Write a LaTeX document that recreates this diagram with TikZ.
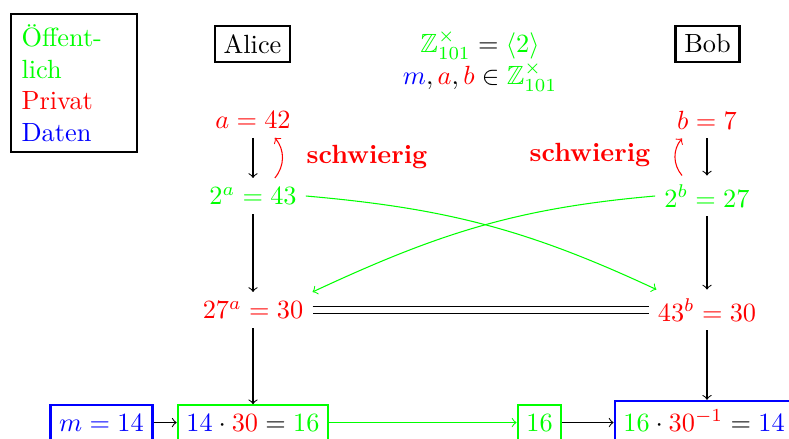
\documentclass[tikz,border=0pt]{standalone}
\usepackage{amssymb}
\begin{document}
\begin{tikzpicture}[x=0.38pt,y=-0.38pt,
  box/.style={draw,thick},
  arr/.style={->}]
\useasboundingbox (0,0) rectangle (789,438);
% legend
\node[box,anchor=north west,text width=40pt,align=left,inner sep=4pt] (leg) at (10,13)
  {{\color{green}Öffent-}\\{\color{green}lich}\\{\color{red}Privat}\\{\color{blue}Daten}};
\node[box] (alice) at (252.5,44) {Alice};
\node[box] (bob) at (707.5,44) {Bob};
\node (grp) at (480,45) {$\color{green}\mathbb{Z}_{101}^{\times}\color{black} = \color{green}\langle 2\rangle$};
\node (set) at (480,77) {${\color{blue}m}, {\color{red}a}, {\color{red}b} \in {\color{green}\mathbb{Z}_{101}^{\times}}$};
% Alice
\node[red] (a) at (253,120) {$a = 42$};
\node[green] (twoa) at (253,196) {$2^a = 43$};
\node[red] (ca) at (253,310) {$27^a = 30$};
% Bob
\node[red] (b) at (707,120) {$b = 7$};
\node[green] (twob) at (707,196) {$2^b = 27$};
\node[red] (cb) at (707,310) {$43^b = 30$};
\node[red,font=\bfseries] (sa) at (367,157) {schwierig};
\node[red,font=\bfseries] (sb) at (590,155) {schwierig};
% bottom row
\node[box,blue,anchor=base] (m) at (101.5,431) {$m = 14$};
\node[box,green,anchor=base] (x1) at (253,431) {${\color{blue}14}\color{black}\cdot{\color{red}30} = {\color{green}16}$};
\node[box,green,anchor=base] (s16) at (539.5,431) {$16$};
\node[box,blue,anchor=base] (last) at (704,431) {${\color{green}16}\color{black}\cdot{\color{red}30^{-1}} = {\color{blue}14}$};
% arrows
\draw[arr] (a) -- (twoa);
\draw[arr] (b) -- (twob);
\draw[arr] (twoa) -- (ca);
\draw[arr] (twob) -- (cb);
\draw[red,->] ([xshift=8.3pt]twoa.north) to[bend right=40] ([xshift=8.3pt]a.south);
\draw[red,->] ([xshift=-9.5pt]twob.north) to[bend left=40] ([xshift=-9.5pt]b.south);
\draw[green,->] (twoa.east) to[out=-5,in=155] ([xshift=3pt]cb.north west);
\draw[green,->] (twob.west) to[out=185,in=25] (ca.north east);
\draw[double,double distance=2pt] (ca) -- (cb);
\draw[arr] (ca) -- (ca |- x1.north);
\draw[arr] (cb) -- (cb |- last.north);
\draw[arr] (m) -- (x1);
\draw[green,->] (x1) -- (s16);
\draw[arr] (s16.east) -- (s16.east -| last.west);
\end{tikzpicture}
\end{document}
